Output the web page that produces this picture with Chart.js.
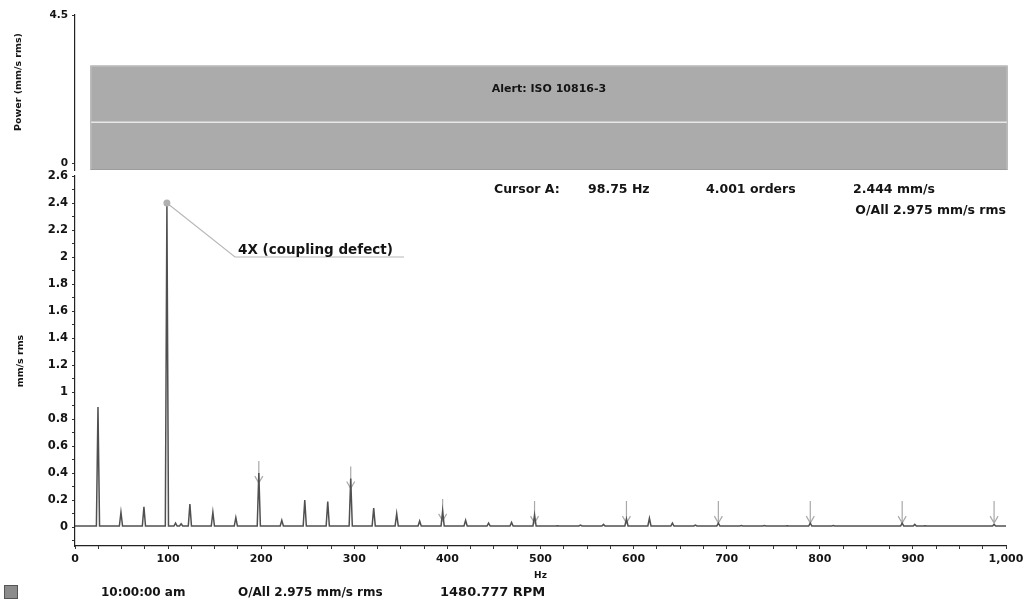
<!DOCTYPE html>
<html><head><meta charset="utf-8">
<script src="https://cdn.jsdelivr.net/npm/chart.js@4.4.1/dist/chart.umd.min.js"></script>
<style>
html,body{margin:0;padding:0;background:#fff;overflow:hidden;width:1023px;height:605px;}
#wrap{position:relative;width:1023px;height:605px;overflow:hidden;background:#fff;}
#spec,#trend{position:absolute;left:0;top:0;}
</style></head><body>
<div id="wrap">
<canvas id="spec" width="1040" height="605"></canvas>
<canvas id="trend" width="1040" height="185"></canvas>
</div>
<script>
// ---------- data ----------
const runningRPM = 1480.777;
const fundamentalHz = 24.68;                 // 1X (running speed)
const harmonicOrders = [1,2,3,4,5,6,7,8,9,10,11,12,13,14,15,16,17,18,19,20,
                        21,22,23,24,25,26,27,28,29,30,31,32,33,34,35,36,37,38,39,40];
const harmonicAmps   = [0.89,0.11,0.15,2.40,0.17,0.11,0.07,0.40,0.05,0.20,
                        0.19,0.36,0.14,0.10,0.045,0.12,0.05,0.03,0.035,0.09,
                        0.01,0.015,0.02,0.06,0.065,0.03,0.015,0.03,0.012,0.012,
                        0.01,0.03,0.012,0.008,0.008,0.03,0.01,0.008,0.008,0.02];
const extraPeakHz    = [108, 114, 902];
const extraPeakAmps  = [0.03, 0.025, 0.02];
const noiseFloor     = 0.008;
const markerOrders   = [8,12,16,20,24,28,32,36,40];   // 4X family arrows
const cursorOrder = 4;
const cursorHz = 98.75, cursorAmp = 2.444, cursorOrders = 4.001;
const overallRms = 2.975;
const alertLevel = 1.25;
const trendLabels = ['10:00:00 am'];
const trendBand = [overallRms];
const xTickLabels = [0,100,200,300,400,500,600,700,800,900,1000];
const yTickLabels = [0,0.2,0.4,0.6,0.8,1,1.2,1.4,1.6,1.8,2,2.2,2.4,2.6];

// ---------- build spectrum table ----------
const peaks = harmonicOrders.map((o,i)=>({f:o*fundamentalHz, a:harmonicAmps[i]}))
  .concat(extraPeakHz.map((f,i)=>({f, a:extraPeakAmps[i]})))
  .sort((p,q)=>p.f-q.f);
const spectrum = [{x:0,y:noiseFloor}];
peaks.forEach(p=>{
  spectrum.push({x:p.f-1.7,y:noiseFloor},{x:p.f,y:p.a},{x:p.f+1.7,y:noiseFloor});
});
spectrum.push({x:1000,y:noiseFloor});

const FONT = '"DejaVu Sans", "Liberation Sans", Arial, sans-serif';
const INK = '#141414';

// ---------- spectrum chart ----------
const specDecor = {
  id:'specDecor',
  beforeDatasetsDraw(chart){
    const {ctx, scales:{x,y}} = chart;
    const zeroPx = y.getPixelForValue(0);
    ctx.save();
    ctx.strokeStyle = '#a9a9a9'; ctx.lineWidth = 1.2;
    markerOrders.forEach(o=>{
      const px = x.getPixelForValue(o*fundamentalHz);
      const tip = Math.min(y.getPixelForValue(harmonicAmps[o-1])+10, zeroPx-4);
      const top = tip-22;
      ctx.beginPath();
      ctx.moveTo(px, top); ctx.lineTo(px, tip);
      ctx.moveTo(px-4, tip-7); ctx.lineTo(px, tip); ctx.lineTo(px+4, tip-7);
      ctx.stroke();
    });
    ctx.restore();
  },
  afterDraw(chart){
    const {ctx, scales:{x,y}} = chart;
    ctx.save();
    // leader line to annotation
    const cx = x.getPixelForValue(cursorOrder*fundamentalHz);
    const cy = y.getPixelForValue(harmonicAmps[cursorOrder-1]);
    ctx.strokeStyle = '#b8b8b8'; ctx.lineWidth = 1.2;
    ctx.beginPath(); ctx.moveTo(cx, cy); ctx.lineTo(235, 257); ctx.lineTo(404, 257); ctx.stroke();
    ctx.fillStyle = '#b0b0b0';
    ctx.beginPath(); ctx.arc(cx, cy, 3.5, 0, Math.PI*2); ctx.fill();
    ctx.fillStyle = INK; ctx.textBaseline = 'middle'; ctx.textAlign = 'left';
    ctx.font = 'bold 13.5px ' + FONT;
    ctx.fillText('4X (coupling defect)', 238, 250);
    // cursor readout
    ctx.font = 'bold 12.5px ' + FONT;
    ctx.fillText('Cursor A:', 494, 190);
    ctx.fillText(cursorHz.toFixed(2)+' Hz', 588, 190);
    ctx.fillText(cursorOrders.toFixed(3)+' orders', 706, 190);
    ctx.fillText(cursorAmp.toFixed(3)+' mm/s', 853, 190);
    ctx.textAlign = 'right';
    ctx.fillText('O/All '+overallRms.toFixed(3)+' mm/s rms', 1006, 211);
    // axis titles
    ctx.textAlign = 'center';
    ctx.font = 'bold 9px ' + FONT;
    ctx.fillText('Hz', x.getPixelForValue(500), 576);
    ctx.save();
    ctx.translate(21, 361); ctx.rotate(-Math.PI/2);
    ctx.font = 'bold 9.5px ' + FONT;
    ctx.fillText('mm/s rms', 0, 0);
    ctx.restore();
    // footer
    ctx.fillStyle = '#8c8c8c'; ctx.fillRect(4, 585, 14, 14);
    ctx.strokeStyle = '#555'; ctx.lineWidth = 1; ctx.strokeRect(4.5, 585.5, 13, 13);
    ctx.fillStyle = INK; ctx.textAlign = 'left';
    ctx.font = 'bold 12px ' + FONT;
    ctx.fillText(trendLabels[0], 101, 593);
    ctx.fillText('O/All '+overallRms.toFixed(3)+' mm/s rms', 238, 593);
    ctx.font = 'bold 13px ' + FONT;
    ctx.fillText(runningRPM.toFixed(3)+' RPM', 440, 593);
    ctx.restore();
  }
};

new Chart(document.getElementById('spec'), {
  type:'line',
  data:{datasets:[{
    data: spectrum, borderColor:'#505050', borderWidth:1.5, pointRadius:0, tension:0, fill:false
  }]},
  options:{
    responsive:false, animation:false, devicePixelRatio:1,
    layout:{padding:{top:176, right:34, bottom:29, left:0}},
    plugins:{legend:{display:false}, tooltip:{enabled:false}},
    scales:{
      x:{type:'linear', min:0, max:1000,
        afterBuildTicks(s){ const t=[]; for(let v=0; v<=1000; v+=25) t.push({value:v}); s.ticks=t; },
        afterFit(s){ s.height = 30; },
        border:{display:true, color:'#222', width:1.2},
        grid:{drawOnChartArea:false, tickLength:3, color:'#333'},
        ticks:{autoSkip:false, maxRotation:0, padding:4, color:INK,
          font:{family:FONT, size:11, weight:'bold'},
          callback(v){ return xTickLabels.includes(v) ? v.toLocaleString('en-US') : ''; }}
      },
      y:{type:'linear', min:-0.14, max:2.6,
        afterBuildTicks(s){ const t=[{value:-0.1}]; for(let i=0;i<=26;i++) t.push({value:i/10}); s.ticks=t; },
        afterFit(s){ s.width = 75; },
        border:{display:true, color:'#222', width:1.2},
        grid:{drawOnChartArea:false, tickLength:3, color:'#333'},
        ticks:{autoSkip:false, padding:4, color:INK,
          font:{family:FONT, size:11.5, weight:'bold'},
          callback(v){ const r=Math.round(v*10)/10; return yTickLabels.some(t=>Math.abs(t-r)<1e-6) ? String(r) : ''; }}
      }
    }
  },
  plugins:[specDecor]
});

// ---------- trend / alert band ----------
const trendDecor = {
  id:'trendDecor',
  afterDatasetsDraw(chart){
    const {ctx, scales:{x,y}} = chart;
    const meta = chart.getDatasetMeta(0).data[0];
    const left = meta.x - meta.width/2, right = meta.x + meta.width/2;
    ctx.save();
    const ly = y.getPixelForValue(alertLevel);
    ctx.strokeStyle = '#e8e8e8'; ctx.lineWidth = 1.6;
    ctx.beginPath(); ctx.moveTo(left+1, ly); ctx.lineTo(right-1, ly); ctx.stroke();
    ctx.fillStyle = INK; ctx.textAlign='center'; ctx.textBaseline='middle';
    ctx.font = 'bold 11px ' + FONT;
    ctx.fillText('Alert: ISO 10816-3', meta.x, 89);
    ctx.translate(19, 82); ctx.rotate(-Math.PI/2);
    ctx.font = 'bold 9.5px ' + FONT;
    ctx.fillText('Power (mm/s rms)', 0, 0);
    ctx.restore();
  }
};

new Chart(document.getElementById('trend'), {
  type:'bar',
  data:{labels:trendLabels, datasets:[{
    data: trendBand.map(v=>[-0.2, v]),
    backgroundColor:'#ababab', borderColor:'#9c9c9c', borderWidth:1, borderSkipped:false,
    barPercentage:0.968, categoryPercentage:1
  }]},
  options:{
    responsive:false, animation:false, devicePixelRatio:1,
    layout:{padding:{top:15, right:17, bottom:15, left:0}},
    plugins:{legend:{display:false}, tooltip:{enabled:false}},
    scales:{
      x:{display:false},
      y:{min:-0.2, max:4.5,
        afterBuildTicks(s){ s.ticks=[{value:0},{value:4.5}]; },
        afterFit(s){ s.width = 75; },
        border:{display:true, color:'#222', width:1.2},
        grid:{drawOnChartArea:false, tickLength:3, color:'#333'},
        ticks:{padding:4, color:INK, font:{family:FONT, size:10.5, weight:'bold'}}
      }
    }
  },
  plugins:[trendDecor]
});
</script>
</body></html>
